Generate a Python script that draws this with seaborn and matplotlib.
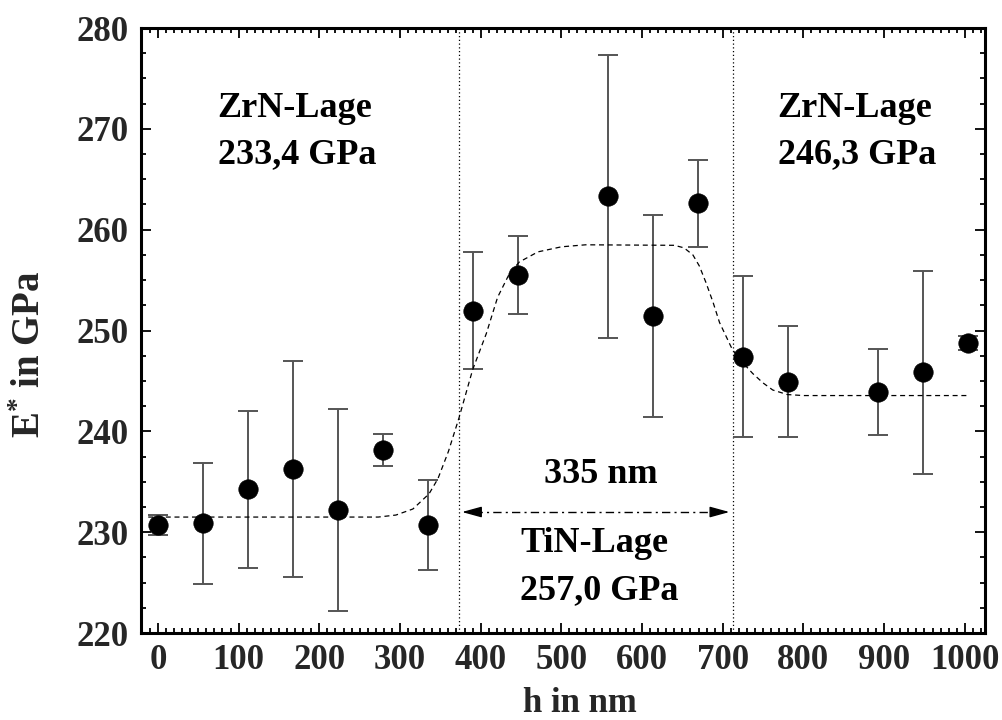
import matplotlib
matplotlib.use("Agg")
import matplotlib.pyplot as plt
from matplotlib.ticker import MultipleLocator
import seaborn as sns
import pandas as pd

# ---- data ----
h_nm = [0.0, 55.8, 111.6, 167.4, 223.2, 279.0, 334.8, 390.6, 446.4,
        558.0, 613.8, 669.6, 725.4, 781.2, 892.8, 948.6, 1004.4]
e_gpa = [230.7, 230.9, 234.25, 236.3, 232.2, 238.15, 230.7, 251.95, 255.5,
         263.3, 251.45, 262.6, 247.4, 244.9, 243.9, 245.85, 248.75]
e_err = [1.0, 6.0, 7.8, 10.7, 10.0, 1.55, 4.45, 5.8, 3.9,
         14.05, 10.0, 4.3, 8.0, 5.5, 4.3, 10.05, 0.7]

fit_h = [-12, 100, 200, 273, 295, 316, 336, 347, 360, 373, 390, 407, 421,
         436, 448, 471, 500, 530, 640, 652, 663, 671, 679, 688, 696, 712,
         725, 737, 750, 762, 780, 800, 1005]
fit_e = [231.5, 231.5, 231.5, 231.5, 231.7, 232.3, 233.8, 235.3, 238.0,
         241.3, 246.1, 249.7, 253.3, 255.7, 256.8, 257.8, 258.3, 258.5,
         258.45, 258.2, 257.5, 256.4, 254.8, 252.8, 250.8, 248.1, 246.8,
         245.75, 244.8, 244.1, 243.65, 243.55, 243.55]

layer_bounds = [372.8, 712.3]
arrow_y = 232.0

labels = [
    ("ZrN-Lage", 74, 271.2),
    ("233,4 GPa", 74, 266.6),
    ("ZrN-Lage", 768, 271.2),
    ("246,3 GPa", 768, 266.6),
    ("335 nm", 478, 234.9),
    ("TiN-Lage", 449, 228.0),
    ("257,0 GPa", 449, 223.4),
]

x_ticks = [0, 100, 200, 300, 400, 500, 600, 700, 800, 900, 1000]
y_ticks = [220, 230, 240, 250, 260, 270, 280]

# ---- style ----
sns.set_style("ticks")
plt.rcParams["font.family"] = ["Liberation Serif", "DejaVu Serif"]
plt.rcParams["font.weight"] = "bold"
plt.rcParams["mathtext.fontset"] = "custom"
plt.rcParams["mathtext.rm"] = "Liberation Serif:bold"
plt.rcParams["mathtext.bf"] = "Liberation Serif:bold"
plt.rcParams["mathtext.it"] = "Liberation Serif:bold"
plt.rcParams["mathtext.default"] = "bf"

fig = plt.figure(figsize=(10.02, 7.2), dpi=100)
ax = fig.add_axes([0.1407, 0.1208, 0.8423, 0.8403])

df = pd.DataFrame({"h": h_nm, "E": e_gpa, "err": e_err})
fit_df = pd.DataFrame({"h": fit_h, "E": fit_e})

# error bars
ax.errorbar(df["h"], df["E"], yerr=df["err"], fmt="none", ecolor="#555555",
            elinewidth=1.4, capsize=7.5, capthick=1.4, zorder=2)

# fit curve
sns.lineplot(data=fit_df, x="h", y="E", ax=ax, sort=False, estimator=None,
             color="black", linewidth=0.9, dashes=False, zorder=3)
ax.lines[-1].set_dashes([4, 3])

# markers
sns.scatterplot(data=df, x="h", y="E", ax=ax, color="black", s=195,
                edgecolor="black", linewidth=0.5, zorder=4, legend=False)

# vertical layer boundaries
for xb in layer_bounds:
    ax.axvline(xb, color="black", linewidth=0.9, dashes=[1, 2], zorder=1)

# dash-dot double arrow
x0, x1 = layer_bounds[0] + 4, layer_bounds[1] - 4
ax.plot([x0 + 15, x1 - 15], [arrow_y, arrow_y], color="black",
        linewidth=1.0, linestyle=(0, (6, 3, 1.5, 3)), zorder=3)
for tip, tail in [(x0, x0 + 20), (x1, x1 - 20)]:
    ax.annotate("", xy=(tip, arrow_y), xytext=(tail, arrow_y),
                arrowprops=dict(arrowstyle="-|>,head_length=0.8,head_width=0.22",
                                color="black", lw=1.0, shrinkA=0, shrinkB=0,
                                mutation_scale=15))

for txt, xx, yy in labels:
    ax.text(xx, yy, txt, fontsize=26, fontweight="bold", ha="left",
            va="baseline", color="black")

ax.set_xlim(-21, 1025)
ax.set_ylim(220, 280)
ax.set_xticks(x_ticks)
ax.set_yticks(y_ticks)
ax.xaxis.set_minor_locator(MultipleLocator(10))
ax.yaxis.set_minor_locator(MultipleLocator(2.5))
ax.tick_params(which="both", direction="in", top=True, right=True,
               labelsize=25, width=1.3, color="black")
ax.tick_params(which="major", length=7.5)
ax.tick_params(which="minor", length=3.8)
ax.tick_params(axis="x", which="both", pad=8)
ax.tick_params(axis="y", which="both", pad=9)
for lab in ax.get_xticklabels() + ax.get_yticklabels():
    lab.set_fontweight("bold")
for sp in ax.spines.values():
    sp.set_linewidth(2.2)
    sp.set_color("black")

ax.set_xlabel("h in nm", fontsize=25, fontweight="bold")
ax.set_ylabel(r"E$^{*}$ in GPa", fontsize=28, fontweight="bold")
ax.xaxis.label.set_va("baseline")
ax.xaxis.set_label_coords(0.52, -0.130)
ax.yaxis.set_label_coords(-0.109, 0.46)

fig.savefig("out.png", dpi=100)
